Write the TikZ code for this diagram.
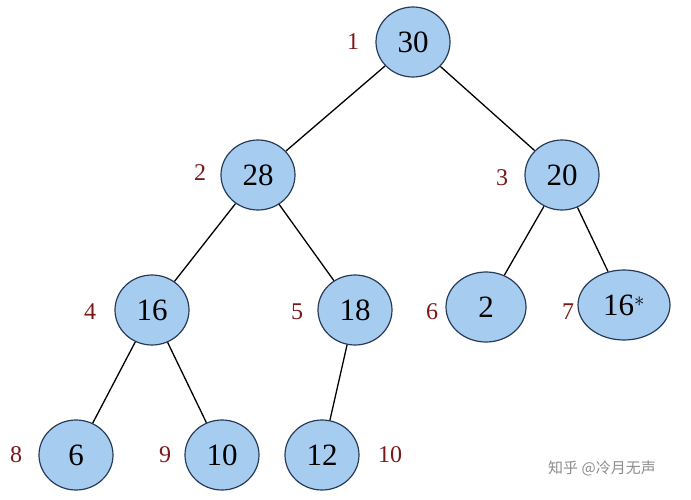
\documentclass[tikz,border=0pt]{standalone}
\usepackage{fontspec}
\setmainfont{Liberation Serif}
\newfontfamily\cjk{Noto Sans CJK SC}
\usetikzlibrary{shapes.geometric}
\begin{document}
\begin{tikzpicture}[x=1pt,y=-1pt,
  hn/.style={ellipse,draw={rgb,255:red,40;green,60;blue,90},line width=1.2pt,fill={rgb,255:red,166;green,204;blue,240},minimum width=74pt,minimum height=70pt,inner sep=0pt,font=\fontsize{31}{31}\selectfont},
  lb/.style={text={rgb,255:red,122;green,24;blue,24},font=\fontsize{24}{24}\selectfont},
  ed/.style={line width=1.3pt}]
\useasboundingbox (0,0) rectangle (691,500);
\node[hn] (n1) at (413,42) {30};
\node[hn] (n2) at (258,175) {28};
\node[hn] (n3) at (562,175) {20};
\node[hn] (n4) at (152,310) {16};
\node[hn] (n5) at (355,310) {18};
\node[hn,minimum width=80pt] (n6) at (486,307) {2};
\node[hn,minimum width=92pt] (n7) at (624,305) {16$^{*}$};
\node[hn] (n8) at (76,455) {6};
\node[hn] (n9) at (222,455) {10};
\node[hn] (n10) at (322,455) {12};
\draw[ed] (n1)--(n2); \draw[ed] (n1)--(n3);
\draw[ed] (n2)--(n4); \draw[ed] (n2)--(n5);
\draw[ed] (n3)--(n6); \draw[ed] (n3)--(n7);
\draw[ed] (n4)--(n8); \draw[ed] (n4)--(n9);
\draw[ed] (n5)--(n10);
\node[lb] (l1) at (353,42) {1};
\node[lb] (l2) at (200,173) {2};
\node[lb] (l3) at (502,178) {3};
\node[lb] (l4) at (90,312) {4};
\node[lb] (l5) at (297,312) {5};
\node[lb] (l6) at (432,312) {6};
\node[lb] (l7) at (568,312) {7};
\node[lb] (l8) at (16,455) {8};
\node[lb] (l9) at (165,455) {9};
\node[lb] (l10) at (390,455) {10};
\node[text=black!45,font=\cjk\fontsize{15}{15}\selectfont] (wm) at (602,468) {知乎 @冷月无声};
\end{tikzpicture}
\end{document}
